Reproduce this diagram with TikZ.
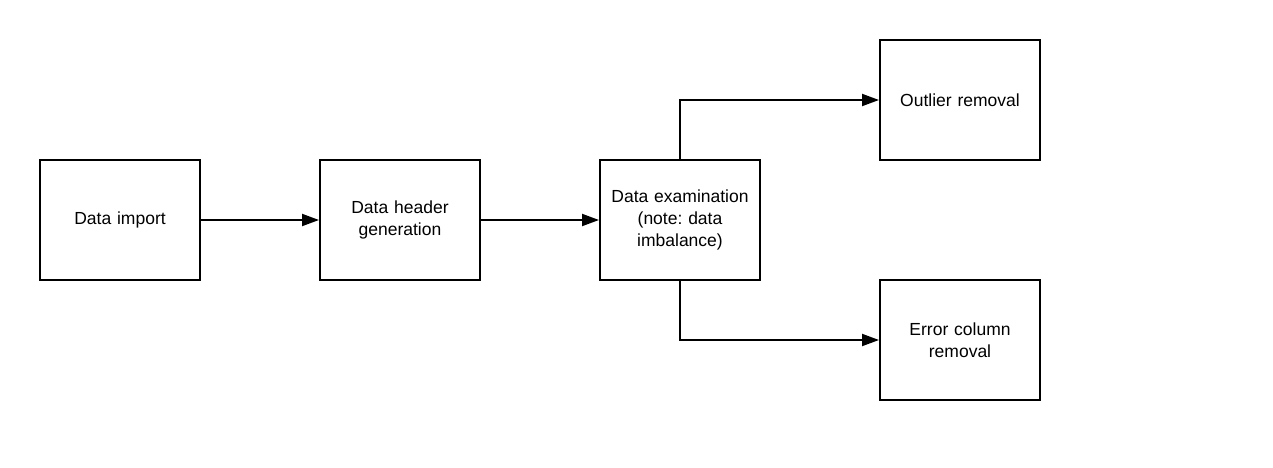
\documentclass[tikz,border=0pt]{standalone}
\usepackage{fontspec}
\setmainfont{Liberation Sans}
\usetikzlibrary{arrows.meta}
\begin{document}
\frenchspacing
\begin{tikzpicture}[x=1pt,y=1pt,
  stepbox/.style={draw=black, line width=2pt, minimum width=160pt, minimum height=120pt,
    inner sep=0pt, align=center, text width=150pt,
    font=\fontsize{17.5pt}{21.7pt}\selectfont},
  flow/.style={line width=2pt, -{Triangle[length=17pt,width=12pt]}}]
  \useasboundingbox (0,0) rectangle (1273,467);
  \node[stepbox] (imp)  at (120,247) {Data import};
  \node[stepbox] (hdr)  at (400,247) {Data header\\generation};
  \node[stepbox] (exam) at (680,247) {Data examination\\(note: data\\imbalance)};
  \node[stepbox] (out)  at (960,367) {Outlier removal};
  \node[stepbox] (err)  at (960,127) {Error column\\removal};
  \draw[flow] (imp) -- (hdr);
  \draw[flow] (hdr) -- (exam);
  \draw[flow] (exam.north) |- (out.west);
  \draw[flow] (exam.south) |- (err.west);
\end{tikzpicture}
\end{document}
